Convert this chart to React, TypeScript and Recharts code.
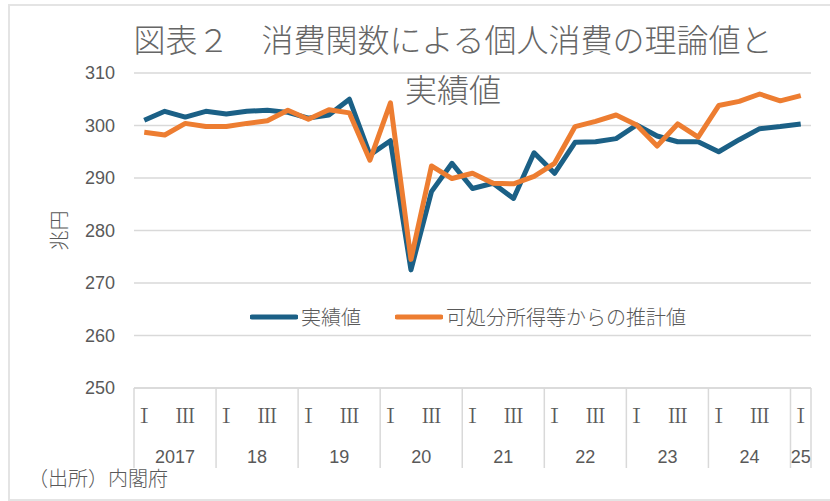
import { LineChart, Line, XAxis, YAxis, CartesianGrid, Legend } from 'recharts'

// 2017 I ~ 2025 I, quarterly
const years = ['2017', '18', '19', '20', '21', '22', '23', '24', '25']
const quarterNames = ['Ⅰ', 'Ⅱ', 'Ⅲ', 'Ⅳ']
const shownQuarters = ['Ⅰ', 'Ⅲ']
const seriesNames = ['実績値', '可処分所得等からの推計値']

// 兆円
const actual = [
  301.0, 302.7, 301.6, 302.7,
  302.2, 302.7, 302.9, 302.5,
  301.4, 302.0, 305.0, 294.4,
  297.1, 272.5, 287.4, 292.8,
  288.0, 289.0, 286.1, 294.8,
  290.9, 296.8, 296.9, 297.5,
  300.1, 298.0, 296.9, 296.9,
  295.0, 297.3, 299.4, 299.8,
  300.3,
]
const estimate = [
  298.7, 298.2, 300.4, 299.8,
  299.8, 300.4, 300.9, 302.9,
  301.2, 303.0, 302.4, 293.4,
  304.3, 274.5, 292.3, 289.9,
  290.9, 289.0, 288.9, 290.3,
  292.8, 299.8, 300.8, 302.0,
  300.1, 296.1, 300.3, 297.8,
  303.8, 304.6, 306.0, 304.7,
  305.7,
]
const yTicks = [250, 260, 270, 280, 290, 300, 310]

const BLUE = '#1b6086'
const ORANGE = '#ed7d31'
const GRAY = '#595959'
const GRID = '#d9d9d9'

const data = actual.map((v, i) => ({
  i,
  year: years[Math.floor(i / 4)],
  q: quarterNames[i % 4],
  actual: v,
  estimate: estimate[i],
}))

const quarterTicks = data.filter(d => shownQuarters.includes(d.q)).map(d => d.i)
const yearTicks = years.map(y => {
  const idx = data.filter(d => d.year === y).map(d => d.i)
  return (idx[0] + idx[idx.length - 1]) / 2
})
const boundaryTicks = [...years.map((_, k) => k * 4 - 0.5), data.length - 0.5]
const domain: [number, number] = [-0.5, data.length - 0.5]

const QuarterTick = (p: any) => {
  const d = data[Math.round(p.payload.value)]
  return (
    <text x={p.x} y={p.y + 5} textAnchor="middle" fontSize={20} fontFamily="Noto Serif CJK JP, DejaVu Serif, serif" fill={GRAY}>
      {d ? d.q : ''}
    </text>
  )
}

const YearTick = (p: any) => {
  const k = yearTicks.indexOf(p.payload.value)
  return (
    <text x={p.x} y={p.y + 15} textAnchor="middle" fontSize={18} fontFamily="Liberation Sans" fill={GRAY}>
      {years[k]}
    </text>
  )
}

const BoundaryTick = (p: any) => (
  <line x1={p.x} x2={p.x} y1={p.y} y2={p.y + 80} stroke={GRID} strokeWidth={1.5} />
)

const LegendContent = (props: any) => {
  const items = [...(props.payload || [])].sort(
    (a: any, b: any) => seriesNames.indexOf(a.value) - seriesNames.indexOf(b.value))
  return (
    <div style={{ display: 'flex', alignItems: 'center', gap: 34 }}>
      {items.map((item: any) => (
        <span key={item.value} style={{ display: 'flex', alignItems: 'center' }}>
          <svg width={48} height={6}>
            <line x1={2} y1={3} x2={46} y2={3} stroke={item.color} strokeWidth={5} strokeLinecap="round" />
          </svg>
          <span style={{ marginLeft: 3, fontSize: 20, color: GRAY, fontFamily: '"Noto Sans CJK JP"', fontWeight: 300, lineHeight: '28px' }}>
            {item.value}
          </span>
        </span>
      ))}
    </div>
  )
}

export default function App() {
  return (
    <div style={{ position: 'absolute', left: 0, top: 0, width: 830, height: 501, overflow: 'hidden', background: '#fff' }}>
      <div style={{
        position: 'absolute', left: 8, top: 4, width: 822, height: 497, boxSizing: 'border-box',
        borderLeft: '2px solid #e4e4e4', borderTop: '2px solid #e4e4e4', borderBottom: '2px solid #e4e4e4',
      }} />
      <div style={{ position: 'absolute', left: 0, top: 0 }}>
        <LineChart width={830} height={501} data={data} margin={{ top: 73, right: 19, bottom: 33, left: 74 }}>
          <CartesianGrid xAxisId="q" vertical={false} stroke={GRID} strokeWidth={1.5} />
          <XAxis xAxisId="b" dataKey="i" type="number" domain={domain} ticks={boundaryTicks} interval={0}
            height={30} tickSize={0} tickMargin={0} tick={<BoundaryTick />} axisLine={{ stroke: GRID, strokeWidth: 1.5 }} />
          <XAxis xAxisId="q" dataKey="i" type="number" domain={domain} ticks={quarterTicks} interval={0}
            height={30} tickSize={0} tickMargin={0} tick={<QuarterTick />} axisLine={false} />
          <XAxis xAxisId="yr" dataKey="i" type="number" domain={domain} ticks={yearTicks} interval={0}
            height={20} tickSize={0} tickMargin={0} tick={<YearTick />} axisLine={false} />
          <YAxis width={60} domain={[250, 310]} ticks={yTicks} interval={0} axisLine={false} tickLine={false}
            tickSize={0} tickMargin={19}
            tick={{ fontSize: 18, fontFamily: 'Liberation Sans', fill: GRAY }}
            label={{
              content: (p: any) => {
                const vb = p.viewBox
                const cx = 58
                const cy = vb.y + vb.height / 2
                return (
                  <text x={cx} y={cy} transform={`rotate(-90, ${cx}, ${cy})`} textAnchor="middle"
                    dominantBaseline="central" fontSize={20} fontFamily="Noto Sans CJK JP" fontWeight={300} fill={GRAY}>
                    兆円
                  </text>
                )
              },
            }} />
          <Legend layout="horizontal" verticalAlign="middle" align="center" content={<LegendContent />}
            wrapperStyle={{ left: 250, top: 303, width: 520 }} />
          <Line xAxisId="q" type="linear" dataKey="actual" name={seriesNames[0]} stroke={BLUE} strokeWidth={5}
            dot={false} isAnimationActive={false} strokeLinejoin="round" />
          <Line xAxisId="q" type="linear" dataKey="estimate" name={seriesNames[1]} stroke={ORANGE} strokeWidth={5}
            dot={false} isAnimationActive={false} strokeLinejoin="round" />
        </LineChart>
      </div>
      <div style={{
        position: 'absolute', left: 103, top: 13, width: 700, textAlign: 'center',
        fontFamily: '"Noto Sans CJK JP"', fontWeight: 300, fontSize: 32, lineHeight: '50px', color: '#666', pointerEvents: 'none',
      }}>
        <div>図表２　消費関数による個人消費の理論値と</div>
        <div>実績値</div>
      </div>
      <div style={{
        position: 'absolute', left: 28, top: 464, fontFamily: '"Noto Sans CJK JP"', fontWeight: 300, fontSize: 20,
        lineHeight: '28px', color: GRAY,
      }}>
        （出所）内閣府
      </div>
    </div>
  )
}
